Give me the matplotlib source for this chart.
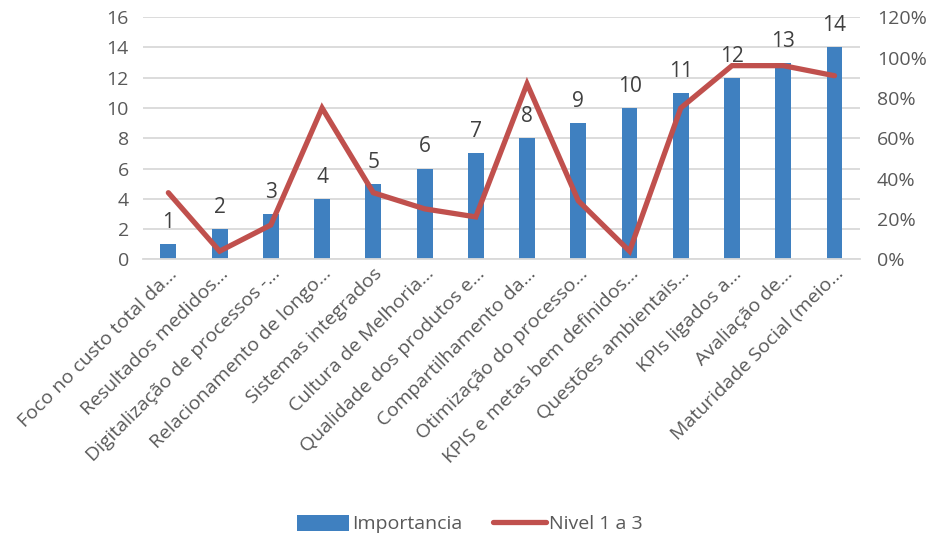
import matplotlib.pyplot as plt
import numpy as np
from matplotlib.ticker import PercentFormatter

categorias = [
    "Foco no custo total da...",
    "Resultados medidos...",
    "Digitalização de processos -...",
    "Relacionamento de longo...",
    "Sistemas integrados",
    "Cultura de Melhoria...",
    "Qualidade dos produtos e...",
    "Compartilhamento da...",
    "Otimização do processo...",
    "KPIS e metas bem definidos...",
    "Questões ambientais...",
    "KPIs ligados a...",
    "Avaliação de...",
    "Maturidade Social (meio...",
]
importancia = [1, 2, 3, 4, 5, 6, 7, 8, 9, 10, 11, 12, 13, 14]
nivel = [0.33, 0.04, 0.17, 0.75, 0.33, 0.25, 0.21, 0.87, 0.29, 0.04, 0.75, 0.96, 0.96, 0.91]

plt.rcParams['font.family'] = ['Open Sans', 'DejaVu Sans']
cor_texto = '#595959'
fs = 14

fig = plt.figure(figsize=(9.39, 5.39), dpi=100)
ax = fig.add_axes([0.152, 0.519, 0.764, 0.449])
x = np.arange(len(categorias))

barras = ax.bar(x, importancia, width=0.31, color='#3F80C0', label='Importancia', zorder=2)
ax.bar_label(barras, padding=8, fontsize=15, color='#404040')

ax.set_ylim(0, 16)
ax.set_yticks(range(0, 17, 2))
ax.set_xlim(-0.5, len(categorias) - 0.5)
ax.grid(axis='y', color='#D9D9D9', linewidth=1.3, zorder=0)
ax.set_axisbelow(True)
for s in ['top', 'right', 'left']:
    ax.spines[s].set_visible(False)
ax.spines['bottom'].set_color('#D9D9D9')
ax.spines['bottom'].set_linewidth(1.3)
ax.tick_params(axis='y', length=0, labelsize=fs, colors=cor_texto, pad=10)
ax.tick_params(axis='x', length=0, labelsize=fs, colors=cor_texto, pad=4)
ax.set_xticks(x)
ax.set_xticklabels(categorias, rotation=45, ha='right', va='top', rotation_mode='anchor')

ax2 = ax.twinx()
ax2.plot(x, nivel, color='#C0504D', linewidth=3.8, label='Nivel 1 a 3',
         solid_capstyle='round', solid_joinstyle='miter', zorder=3)
ax2.set_ylim(0, 1.2)
ax2.set_yticks(np.arange(0, 1.21, 0.2))
ax2.yaxis.set_major_formatter(PercentFormatter(1.0, decimals=0))
for s in ax2.spines.values():
    s.set_visible(False)
ax2.tick_params(length=0, labelsize=fs, colors=cor_texto, pad=12)

h1, l1 = ax.get_legend_handles_labels()
h2, l2 = ax2.get_legend_handles_labels()
fig.legend(h1 + h2, l1 + l2, loc='center', bbox_to_anchor=(0.5, 0.028), ncol=2,
           frameon=False, fontsize=fs, labelcolor=cor_texto,
           handlelength=2.7, handleheight=0.9, handletextpad=0.15, columnspacing=1.6)

fig.savefig('out.png', dpi=100)
